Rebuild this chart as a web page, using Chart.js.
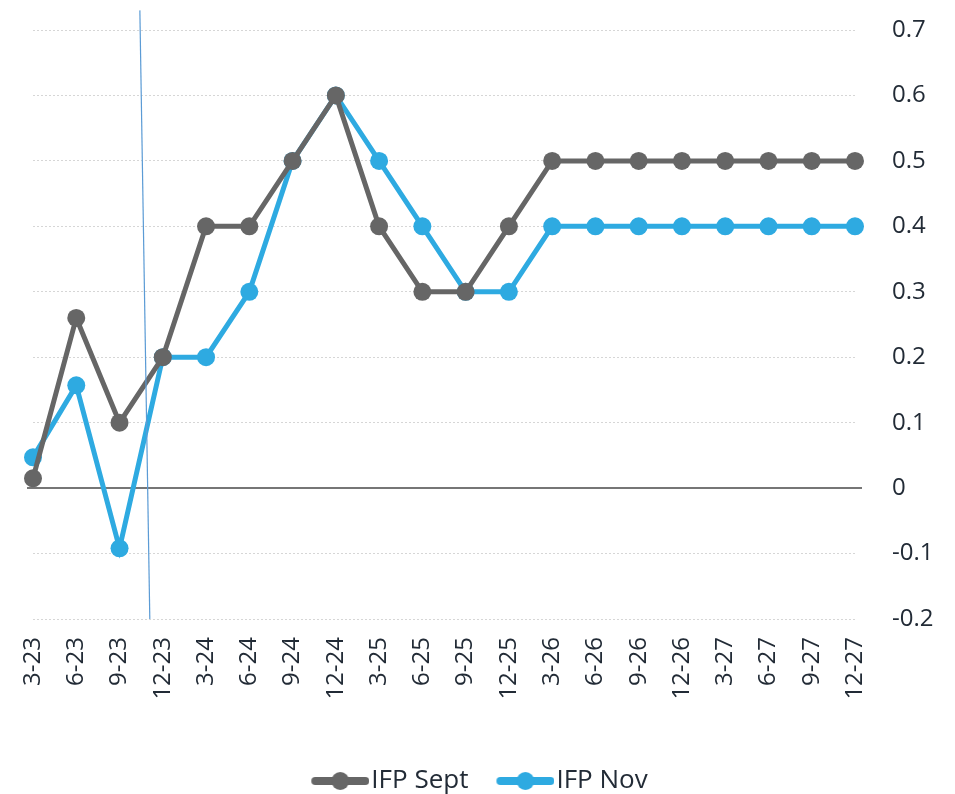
<!DOCTYPE html>
<html>
<head>
<meta charset="utf-8">
<script src="https://cdn.jsdelivr.net/npm/chart.js@4.4.0/dist/chart.umd.min.js"></script>
<style>
  html, body { margin: 0; padding: 0; background: #fff; }
  #wrap { width: 955px; height: 794px; }
</style>
</head>
<body>
<div id="wrap"><canvas id="chart"></canvas></div>
<script>
// quarter labels (month-year)
const quarters = ['3-23', '6-23', '9-23', '12-23', '3-24', '6-24', '9-24', '12-24', '3-25', '6-25',
                  '9-25', '12-25', '3-26', '6-26', '9-26', '12-26', '3-27', '6-27', '9-27', '12-27'];

const ifpSept = [0.015, 0.26, 0.10, 0.20, 0.40, 0.40, 0.50, 0.60, 0.40, 0.30,
                 0.30, 0.40, 0.50, 0.50, 0.50, 0.50, 0.50, 0.50, 0.50, 0.50];
const ifpNov = [0.047, 0.157, -0.092, 0.20, 0.20, 0.30, 0.50, 0.60, 0.50, 0.40,
                0.30, 0.30, 0.40, 0.40, 0.40, 0.40, 0.40, 0.40, 0.40, 0.40];

const yTicks = { min: -0.2, max: 0.7, step: 0.1 };

// thin marker line drawn over the chart (category index, value)
const markerStart = { x: 2.47, y: 0.73 };
const markerEnd = { x: 2.70, y: -0.2 };

const GREY = '#666666';
const BLUE = '#2eaae1';

// legend symbol: line with a dot in the middle, pushed to the right of the image
function legendIcon(color) {
    const c = document.createElement('canvas');
    c.width = 97;
    c.height = 20;
    const ctx = c.getContext('2d');
    ctx.strokeStyle = color;
    ctx.lineWidth = 8;
    ctx.lineCap = 'round';
    ctx.beginPath();
    ctx.moveTo(43, 10);
    ctx.lineTo(93, 10);
    ctx.stroke();
    ctx.fillStyle = color;
    ctx.beginPath();
    ctx.arc(68, 10, 9, 0, Math.PI * 2);
    ctx.fill();
    return c;
}

const extraLines = {
    id: 'extraLines',
    afterLayout(chart) {
        // nudge the legend a little to the left, like the original
        chart.legend.left -= 12;
        chart.legend.right -= 12;
    },
    beforeDatasetsDraw(chart) {
        const { ctx, chartArea, scales: { y } } = chart;
        // zero line
        const y0 = y.getPixelForValue(0);
        ctx.save();
        ctx.strokeStyle = '#767676';
        ctx.lineWidth = 2;
        ctx.beginPath();
        ctx.moveTo(chartArea.left - 6, y0);
        ctx.lineTo(chartArea.right + 7, y0);
        ctx.stroke();
        ctx.restore();
    },
    afterDatasetsDraw(chart) {
        const { ctx, scales: { x, y } } = chart;
        ctx.save();
        ctx.strokeStyle = '#5b9bd5';
        ctx.lineWidth = 1.2;
        ctx.beginPath();
        ctx.moveTo(x.getPixelForValue(markerStart.x), y.getPixelForValue(markerStart.y));
        ctx.lineTo(x.getPixelForValue(markerEnd.x), y.getPixelForValue(markerEnd.y));
        ctx.stroke();
        ctx.restore();
    }
};

const data = {
    labels: quarters,
    datasets: [{
        label: 'IFP Sept',
        data: ifpSept,
        borderColor: GREY,
        backgroundColor: GREY,
        borderWidth: 5,
        pointRadius: 9,
        pointBorderWidth: 0,
        tension: 0
    }, {
        label: 'IFP Nov',
        data: ifpNov,
        borderColor: BLUE,
        backgroundColor: BLUE,
        borderWidth: 5,
        pointRadius: 9,
        pointBorderWidth: 0,
        tension: 0
    }]
};

const icons = [legendIcon(GREY), legendIcon(BLUE)];

const config = {
    type: 'line',
    data: data,
    options: {
        responsive: true,
        maintainAspectRatio: false,
        animation: false,
        layout: { padding: { top: 0, right: 0, left: 0, bottom: -10 } },
        scales: {
            x: {
                offset: false,
                grid: { display: false },
                border: { display: false },
                ticks: {
                    minRotation: 90,
                    maxRotation: 90,
                    autoSkip: false,
                    padding: 10,
                    color: '#222b36',
                    font: { family: 'Open Sans', size: 24 }
                },
                afterFit(scale) {
                    scale.height = 149;
                    scale.paddingLeft = 33;
                }
            },
            y: {
                position: 'right',
                min: yTicks.min,
                max: yTicks.max,
                grid: { color: '#d6d6d6', lineWidth: 1, drawTicks: false },
                border: { display: false, dash: [2, 2] },
                ticks: {
                    stepSize: yTicks.step,
                    padding: 37,
                    color: '#222b36',
                    font: { family: 'Open Sans', size: 24 },
                    callback: v => String(Math.round(v * 10) / 10)
                },
                afterFit(scale) {
                    scale.width = 100;
                    scale.paddingTop = 30;
                    scale.paddingBottom = 14;
                }
            }
        },
        plugins: {
            tooltip: { enabled: false },
            legend: {
                position: 'bottom',
                labels: {
                    usePointStyle: true,
                    pointStyleWidth: 75,
                    padding: 0,
                    color: '#222b36',
                    font: { family: 'Open Sans', size: 26 },
                    generateLabels(chart) {
                        return chart.data.datasets.map((ds, i) => ({
                            text: ds.label,
                            pointStyle: icons[i],
                            fillStyle: ds.backgroundColor,
                            strokeStyle: ds.borderColor,
                            lineWidth: 0,
                            hidden: false,
                            datasetIndex: i,
                            fontColor: '#222b36'
                        }));
                    }
                }
            }
        }
    },
    plugins: [extraLines]
};

new Chart(document.getElementById('chart'), config);
</script>
</body>
</html>
